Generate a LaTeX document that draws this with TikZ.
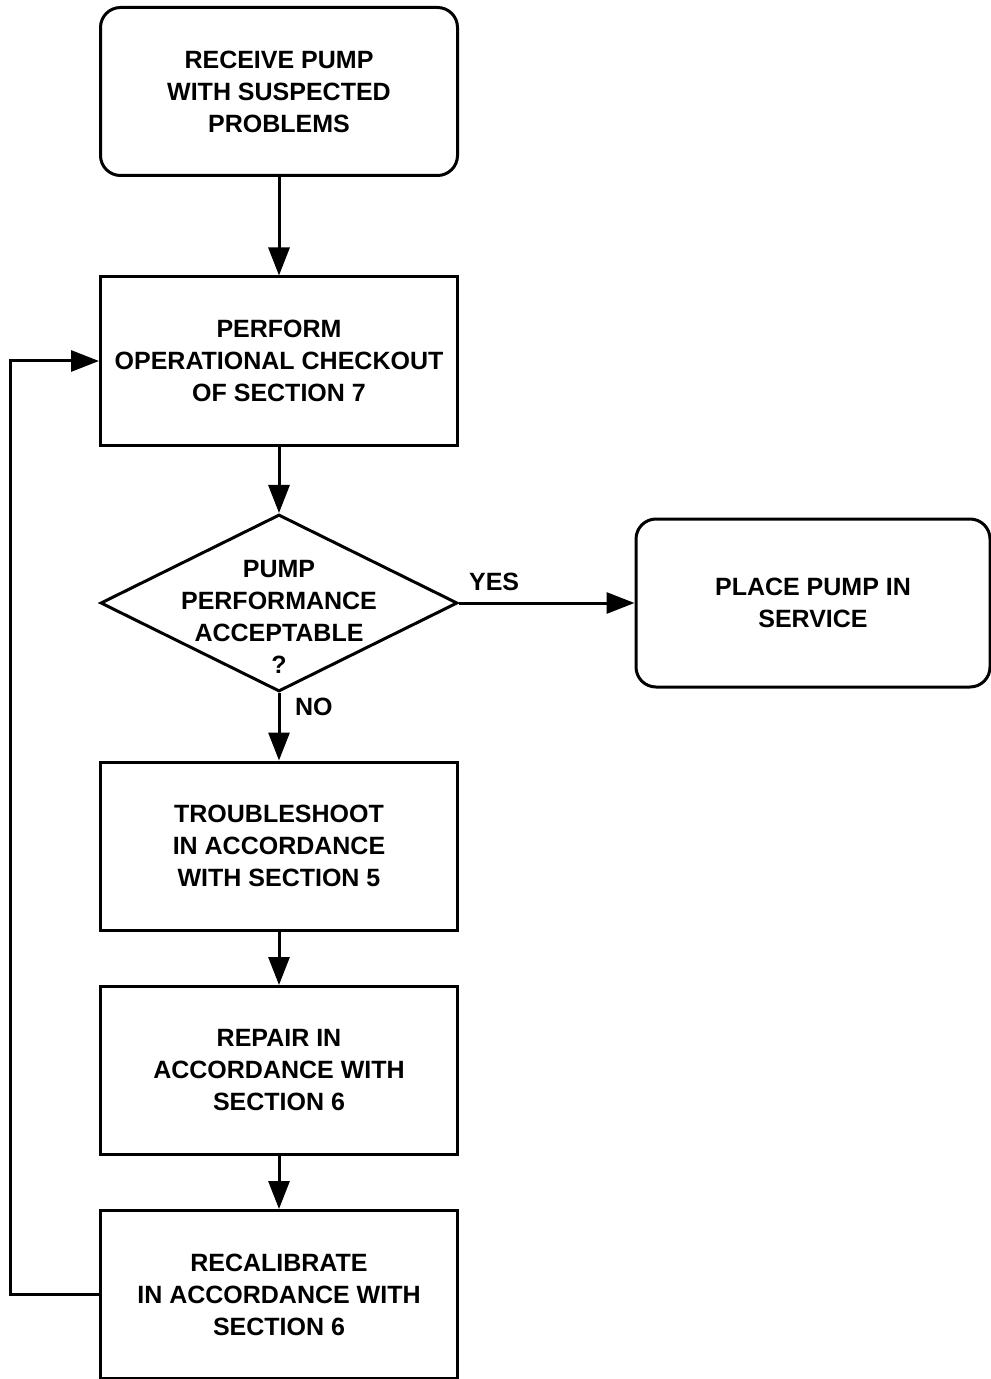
\documentclass[tikz,border=0pt]{standalone}
\usepackage{fontspec}
\setmainfont{Liberation Sans}
\usetikzlibrary{shapes.geometric, arrows.meta}
\newcommand{\boxfont}{\fontsize{12.5}{16}\selectfont\bfseries}
\tikzstyle{roundbox} = [rectangle, rounded corners=10pt, minimum width=178.5pt, minimum height=84pt, align=center, draw=black, line width=1.5pt, font=\boxfont]
\tikzstyle{process} = [rectangle, minimum width=178.5pt, minimum height=84pt, align=center, draw=black, line width=1.5pt, font=\boxfont]
\tikzstyle{decision} = [diamond, minimum width=178.5pt, minimum height=88.5pt, inner sep=0pt, draw=black, line width=1.5pt]
\tikzstyle{answer} = [font=\boxfont]
\tikzstyle{arrow} = [line width=1.5pt,-{Triangle[length=14pt,width=10.5pt]}]

\begin{document}
\begin{tikzpicture}[x=0.5pt, y=0.5pt]
\useasboundingbox (0,0) rectangle (990,-1379);
\node(receive) [roundbox] at (279,-91.5) {RECEIVE PUMP\\WITH SUSPECTED\\PROBLEMS};
\node(checkout) [process, below of=receive, node distance=134.75pt] {PERFORM\\OPERATIONAL CHECKOUT\\OF SECTION 7};
\node(acceptable) [decision, below of=checkout, node distance=121pt,
  label={[align=center, font=\boxfont, yshift=-6.75pt]center:{PUMP\\PERFORMANCE\\ACCEPTABLE\\?}}] {};
\node(service) [roundbox, right of=acceptable, node distance=267pt, minimum width=177pt] {PLACE PUMP IN\\SERVICE};
\node(troubleshoot) [process, below of=acceptable, node distance=121.5pt] {TROUBLESHOOT\\IN ACCORDANCE\\WITH SECTION 5};
\node(repair) [process, below of=troubleshoot, node distance=112.25pt] {REPAIR IN\\ACCORDANCE WITH\\SECTION 6};
\node(recalibrate) [process, below of=repair, node distance=112pt] {RECALIBRATE\\IN ACCORDANCE WITH\\SECTION 6};

\draw[arrow] (receive) -- (checkout);
\draw[arrow] (checkout) -- (acceptable);
\draw[arrow] (acceptable) -- node[answer, pos=0.2, above=2pt] {YES} (service);
\draw[arrow] (acceptable) -- node[answer, pos=0.2, right=4pt] {NO} (troubleshoot);
\draw[arrow] (troubleshoot) -- (repair);
\draw[arrow] (repair) -- (recalibrate);
\draw[arrow] (recalibrate.west) -- ++(-44.5pt,0) |- (checkout.west);
\end{tikzpicture}
\end{document}
